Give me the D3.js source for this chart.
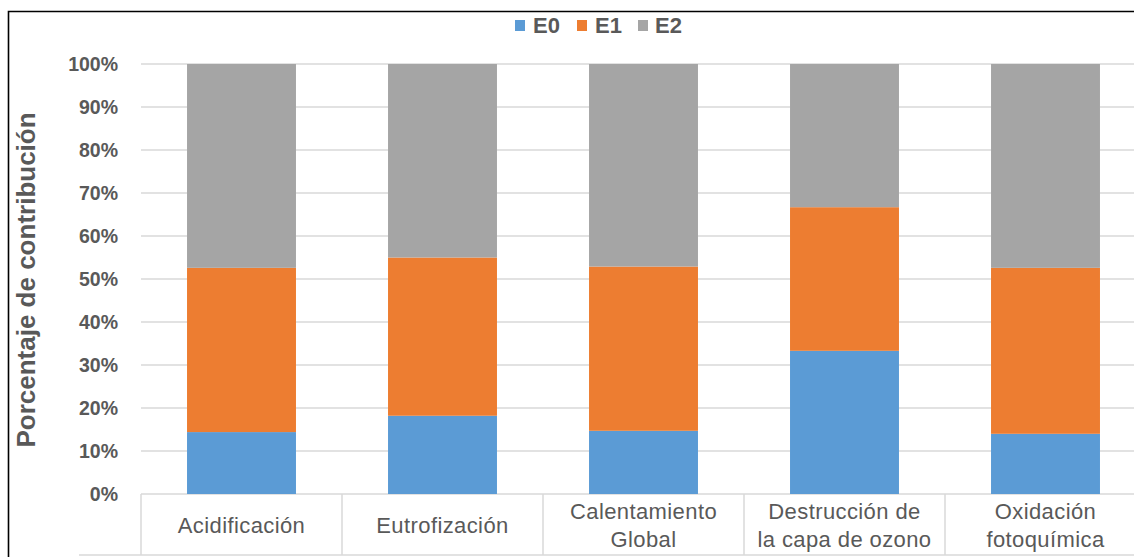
<!DOCTYPE html>
<html>
<head>
<meta charset="utf-8">
<script src="https://cdn.jsdelivr.net/npm/d3@7"></script>
<style>
  html, body { margin: 0; padding: 0; background: #fff; }
  svg { display: block; font-family: "Liberation Sans", Arial, sans-serif; }
</style>
</head>
<body>
<svg id="chart" width="1134" height="557"></svg>
<script>
// Impact categories (two-line labels split with "\n")
const categories = [
  "Acidificación",
  "Eutrofización",
  "Calentamiento\nGlobal",
  "Destrucción de\nla capa de ozono",
  "Oxidación\nfotoquímica"
];
const seriesNames = ["E0", "E1", "E2"];
// Percentage contribution of each scenario per category
const e0 = [14.4, 18.2, 14.7, 33.3, 14.0];
const e1 = [38.2, 36.8, 38.2, 33.4, 38.6];
const e2 = [47.4, 45.0, 47.1, 33.3, 47.4];
const yTicks = [0, 10, 20, 30, 40, 50, 60, 70, 80, 90, 100];
const colors = ["#5b9bd5", "#ed7d31", "#a5a5a5"];

const svg = d3.select("#chart");
const textColor = "#595959";
const gridColor = "#d9d9d9";

const plotLeft = 141, plotRight = 1146, plotTop = 64, plotBottom = 494;

const x = d3.scaleBand()
  .domain(categories)
  .range([plotLeft, plotRight])
  .paddingInner(0.458)
  .paddingOuter(0.229);

const y = d3.scaleLinear().domain([0, 100]).range([plotBottom, plotTop]);

// outer frame (left and top edges)
svg.append("path")
  .attr("d", `M8.5,557 L8.5,11.5 L1134,11.5`)
  .attr("fill", "none")
  .attr("stroke", "#000")
  .attr("stroke-width", 1.6);

// horizontal gridlines
svg.append("g")
  .selectAll("line")
  .data(yTicks)
  .join("line")
  .attr("x1", plotLeft)
  .attr("x2", 1134)
  .attr("y1", d => y(d))
  .attr("y2", d => y(d))
  .attr("stroke", gridColor)
  .attr("stroke-width", 1.5);

// y tick labels
svg.append("g")
  .selectAll("text")
  .data(yTicks)
  .join("text")
  .attr("x", 118)
  .attr("y", d => y(d))
  .attr("dy", "0.35em")
  .attr("text-anchor", "end")
  .attr("fill", textColor)
  .attr("font-size", 19.5)
  .attr("font-weight", "bold")
  .text(d => d + "%");

// y axis title
svg.append("text")
  .attr("transform", "translate(35,280) rotate(-90)")
  .attr("text-anchor", "middle")
  .attr("fill", textColor)
  .attr("font-size", 26)
  .attr("font-weight", "bold")
  .text("Porcentaje de contribución");

// stacked bars
const rows = categories.map((c, i) => ({ cat: c, E0: e0[i], E1: e1[i], E2: e2[i] }));
const stacked = d3.stack().keys(seriesNames)(rows);

svg.append("g")
  .selectAll("g")
  .data(stacked)
  .join("g")
  .attr("fill", (d, i) => colors[i])
  .selectAll("rect")
  .data(d => d)
  .join("rect")
  .attr("x", d => x(d.data.cat))
  .attr("width", x.bandwidth())
  .attr("y", d => y(d[1]))
  .attr("height", d => y(d[0]) - y(d[1]));

// category box: dividers and bottom line
const boxBottom = 555;
const dividers = categories.map(c => x(c) - x.step() * x.paddingOuter());
dividers.push(plotRight);
svg.append("g")
  .selectAll("line")
  .data(dividers)
  .join("line")
  .attr("x1", d => d)
  .attr("x2", d => d)
  .attr("y1", plotBottom)
  .attr("y2", boxBottom)
  .attr("stroke", gridColor)
  .attr("stroke-width", 1.5);

svg.append("line")
  .attr("x1", 79).attr("x2", 1134)
  .attr("y1", boxBottom).attr("y2", boxBottom)
  .attr("stroke", gridColor)
  .attr("stroke-width", 1.5);

// category labels
const catLabels = svg.append("g")
  .selectAll("text")
  .data(categories)
  .join("text")
  .attr("text-anchor", "middle")
  .attr("fill", textColor)
  .attr("font-size", 22)
  .attr("letter-spacing", 0.4);

catLabels.each(function (d) {
  const lines = d.split("\n");
  const cx = x(d) + x.bandwidth() / 2;
  const lineH = 28;
  const startY = 525 - (lines.length - 1) * lineH / 2;
  d3.select(this).selectAll("tspan")
    .data(lines)
    .join("tspan")
    .attr("x", cx)
    .attr("y", (l, i) => startY + i * lineH)
    .attr("dy", "0.35em")
    .text(l => l);
});

// legend
const legendItems = [
  { name: "E0", sx: 515, tx: 533 },
  { name: "E1", sx: 577, tx: 595 },
  { name: "E2", sx: 638, tx: 655 }
];
const legend = svg.append("g");
legend.selectAll("rect")
  .data(legendItems)
  .join("rect")
  .attr("x", d => d.sx)
  .attr("y", 20)
  .attr("width", 10)
  .attr("height", 11)
  .attr("fill", (d, i) => colors[i]);
legend.selectAll("text")
  .data(legendItems)
  .join("text")
  .attr("x", d => d.tx)
  .attr("y", 25.5)
  .attr("dy", "0.35em")
  .attr("fill", textColor)
  .attr("font-size", 22)
  .attr("font-weight", "bold")
  .text(d => d.name);
</script>
</body>
</html>
